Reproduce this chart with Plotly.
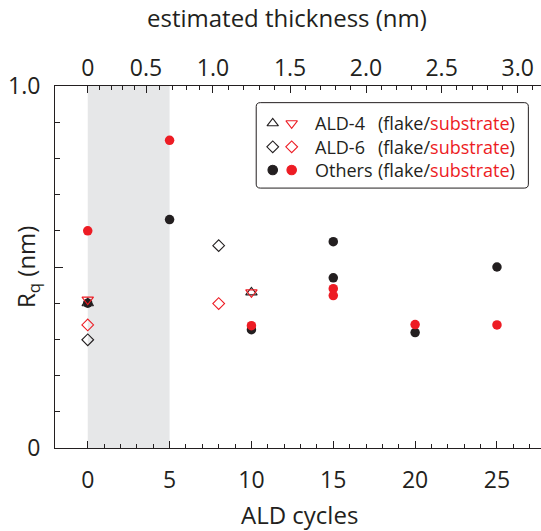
import plotly.graph_objects as go

# ---- data: surface roughness Rq (nm) versus number of ALD cycles ----
others_cycles = [0, 5, 10, 15, 15, 20, 25]
others_flake = [0.400, 0.631, 0.327, 0.570, 0.470, 0.319, 0.500]
others_substrate = [0.600, 0.850, 0.338, 0.440, 0.421, 0.341, 0.340]

ald4_cycles = [0, 10]
ald4_flake = [0.400, 0.430]
ald4_substrate = [0.410, 0.430]

ald6_cycles = [0, 8]
ald6_flake = [0.299, 0.559]
ald6_substrate = [0.340, 0.399]

# top axis: estimated thickness (nm) and the ALD cycle count each label sits at
thickness_labels = ["0", "0.5", "1.0", "1.5", "2.0", "2.5", "3.0"]
thickness_cycles = [0, 3.56, 7.65, 12.36, 17.0, 21.62, 26.27]

cycle_ticks = [0, 5, 10, 15, 20, 25]
rq_ticks = [0, 1.0]
rq_ticktext = ["0", "1.0"]
rq_mid_tick = [0.5]

shaded_cycles = [0, 5]

legend_rows = ["ALD-4", "ALD-6", "Others"]

# ---- style ----
BLACK = "#231f20"
RED = "#ed1c24"
GREY = "#e6e7e8"
FONT = "Open Sans"
X_RANGE = [-2, 27.69]

# minor ticks on the thickness axis: every 0.1 nm between the labelled values
thick_minor = []
for a, b in zip(thickness_cycles[:-1], thickness_cycles[1:]):
    thick_minor += [a + (b - a) * k / 5 for k in range(1, 5)]
step = (thickness_cycles[-1] - thickness_cycles[-2]) / 5
thick_minor.append(thickness_cycles[-1] + step)

fig = go.Figure()

# data points: black (flake) underneath red (substrate)
fig.add_trace(go.Scatter(x=others_cycles, y=others_flake, mode="markers",
                         marker=dict(symbol="circle", size=9.5, color=BLACK)))
fig.add_trace(go.Scatter(x=ald4_cycles, y=ald4_flake, mode="markers",
                         marker=dict(symbol="triangle-up-open", size=10, color=BLACK,
                                     line=dict(color=BLACK, width=1.1))))
fig.add_trace(go.Scatter(x=ald6_cycles, y=ald6_flake, mode="markers",
                         marker=dict(symbol="diamond-open", size=9, color=BLACK,
                                     line=dict(color=BLACK, width=1.1))))
fig.add_trace(go.Scatter(x=others_cycles, y=others_substrate, mode="markers",
                         marker=dict(symbol="circle", size=9.5, color=RED)))
fig.add_trace(go.Scatter(x=ald4_cycles, y=ald4_substrate, mode="markers",
                         marker=dict(symbol="triangle-down-open", size=10, color=RED,
                                     line=dict(color=RED, width=1.1))))
fig.add_trace(go.Scatter(x=ald6_cycles, y=ald6_substrate, mode="markers",
                         marker=dict(symbol="diamond-open", size=9, color=RED,
                                     line=dict(color=RED, width=1.1))))

# empty trace so the top (thickness) axis and the mid-tick axis are laid out
fig.add_trace(go.Scatter(x=[], y=[], xaxis="x2", yaxis="y2", showlegend=False))

# ---- legend (drawn on an auxiliary unit axis pair over the plot area) ----
LEG_X0, LEG_X1 = 0.414, 0.974
LEG_Y0, LEG_Y1 = 0.718, 0.954
ROW_Y = [0.897, 0.832, 0.768]
KEY_X = [0.448, 0.487]
NAME_X = 0.531
PAREN_X = 0.660

key_symbols = [("triangle-up-open", "triangle-down-open"),
               ("diamond-open", "diamond-open"),
               ("circle", "circle")]
key_sizes = [10, 9, 9.5]
for row_y, (s_flake, s_sub), size in zip(ROW_Y, key_symbols, key_sizes):
    fig.add_trace(go.Scatter(
        x=KEY_X, y=[row_y, row_y], xaxis="x3", yaxis="y3", mode="markers",
        marker=dict(symbol=[s_flake, s_sub], size=size, color=[BLACK, RED],
                    line=dict(color=[BLACK, RED], width=1.1)),
        hoverinfo="skip"))

annotations = []
for name, row_y in zip(legend_rows, ROW_Y):
    annotations.append(dict(text=name, x=NAME_X, y=row_y, xref="paper", yref="paper",
                            xanchor="left", yanchor="middle", showarrow=False,
                            font=dict(family=FONT, size=18, color=BLACK)))
    annotations.append(dict(text="(flake/<span style='color:%s'>substrate</span>)" % RED,
                            x=PAREN_X, y=row_y, xref="paper", yref="paper",
                            xanchor="left", yanchor="middle", showarrow=False,
                            font=dict(family=FONT, size=18, color=BLACK)))

# axis titles
annotations += [
    dict(text="R<sub>q</sub> (nm)", x=-0.0576, y=0.5, xref="paper", yref="paper",
         textangle=-90, xanchor="center", yanchor="middle", showarrow=False,
         font=dict(family=FONT, size=24, color=BLACK)),
    dict(text="estimated thickness (nm)", x=0.478, y=1.19, xref="paper", yref="paper",
         xanchor="center", yanchor="middle", showarrow=False,
         font=dict(family=FONT, size=24, color=BLACK)),
    dict(text="ALD cycles", x=0.504, y=-0.185, xref="paper", yref="paper",
         xanchor="center", yanchor="middle", showarrow=False,
         font=dict(family=FONT, size=24, color=BLACK)),
]

rx, ry = 0.0085, 0.011
box_path = (f"M {LEG_X0 + rx},{LEG_Y1} L {LEG_X1 - rx},{LEG_Y1} "
            f"Q {LEG_X1},{LEG_Y1} {LEG_X1},{LEG_Y1 - ry} "
            f"L {LEG_X1},{LEG_Y0 + ry} Q {LEG_X1},{LEG_Y0} {LEG_X1 - rx},{LEG_Y0} "
            f"L {LEG_X0 + rx},{LEG_Y0} Q {LEG_X0},{LEG_Y0} {LEG_X0},{LEG_Y0 + ry} "
            f"L {LEG_X0},{LEG_Y1 - ry} Q {LEG_X0},{LEG_Y1} {LEG_X0 + rx},{LEG_Y1} Z")

shapes = [
    dict(type="rect", xref="x", yref="paper", x0=shaded_cycles[0], x1=shaded_cycles[1],
         y0=0, y1=1, fillcolor=GREY, line=dict(width=0), layer="below"),
    dict(type="path", xref="paper", yref="paper", path=box_path,
         line=dict(color=BLACK, width=1), fillcolor="rgba(0,0,0,0)", layer="above"),
]

tick_font = dict(family=FONT, size=23, color=BLACK)
axis_common = dict(showline=True, linecolor=BLACK, linewidth=1, ticks="inside",
                   tickcolor=BLACK, tickwidth=1, ticklen=7, showgrid=False,
                   zeroline=False, tickfont=tick_font)

fig.update_layout(
    width=541, height=531, autosize=False,
    margin=dict(l=55, r=0, t=86, b=83),
    paper_bgcolor="white", plot_bgcolor="rgba(0,0,0,0)",
    showlegend=False,
    font=dict(family=FONT, color=BLACK),
    xaxis=dict(range=X_RANGE, tickmode="array", tickvals=cycle_ticks,
               ticklabelstandoff=11,
               minor=dict(ticks="inside", ticklen=4, tickcolor=BLACK, tickwidth=1,
                          tickmode="array",
                          tickvals=[c for c in range(0, 28) if c % 5]),
               **axis_common),
    xaxis2=dict(range=X_RANGE, overlaying="x", side="top", anchor="y",
                tickmode="array", tickvals=thickness_cycles, ticktext=thickness_labels,
                minor=dict(ticks="inside", ticklen=4, tickcolor=BLACK, tickwidth=1,
                           tickmode="array", tickvals=thick_minor),
                **axis_common),
    yaxis=dict(range=[0, 1], tickmode="array", tickvals=rq_ticks, ticktext=rq_ticktext,
               ticklabelstandoff=9,
               minor=dict(ticks="inside", ticklen=4.5, tickcolor=BLACK, tickwidth=1,
                          tickmode="array",
                          tickvals=[k / 10 for k in range(1, 10) if k != 5]),
               **{**axis_common, "ticklen": 8}),
    yaxis2=dict(range=[0, 1], overlaying="y", side="left", anchor="x",
                tickmode="array", tickvals=rq_mid_tick, showticklabels=False,
                ticks="inside", ticklen=8, tickcolor=BLACK, tickwidth=1,
                showline=False, showgrid=False, zeroline=False),
    xaxis3=dict(range=[0, 1], overlaying="x", anchor="y3", visible=False),
    yaxis3=dict(range=[0, 1], overlaying="y", anchor="x3", visible=False),
    annotations=annotations,
    shapes=shapes,
)

fig.write_html("out.html", config={"displayModeBar": False})
